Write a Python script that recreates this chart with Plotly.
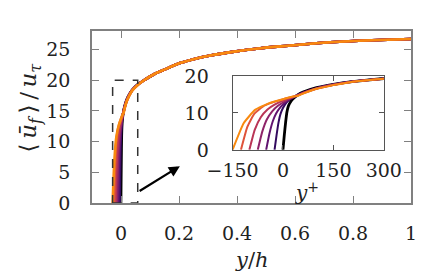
import plotly.graph_objects as go

RE_TAU = 5200.0

# near-wall profiles (y+ , u+) for each offset curve
yp0 = [0, 4, 8, 12, 16, 22, 30, 45, 60, 100, 150, 200, 300]
u0 = [0, 4, 7.5, 10.3, 11.8, 12.9, 13.8, 14.9, 15.6, 16.8, 17.7, 18.4, 19.3]
yp1 = [-25, -19, -13, -7, 0, 8, 18, 30, 45, 60, 100, 150, 200, 300]
u1 = [0, 4, 7.5, 9.8, 11.3, 12.5, 13.5, 14.2, 14.9, 15.5, 16.7, 17.7, 18.4, 19.3]
yp2 = [-50, -40, -30, -20, -8, 5, 18, 30, 45, 60, 100, 150, 200, 300]
u2 = [0, 4.5, 7.8, 9.9, 11.5, 12.7, 13.6, 14.2, 14.85, 15.45, 16.7, 17.65, 18.4, 19.3]
yp3 = [-75, -62, -48, -32, -15, 0, 15, 30, 45, 60, 100, 150, 200, 300]
u3 = [0, 4.8, 8.2, 10.4, 11.9, 12.8, 13.6, 14.2, 14.8, 15.4, 16.6, 17.6, 18.35, 19.25]
yp4 = [-100, -84, -66, -46, -25, -5, 15, 30, 45, 60, 100, 150, 200, 300]
u4 = [0, 5.4, 8.8, 10.9, 12.2, 13.1, 13.8, 14.3, 14.8, 15.35, 16.6, 17.6, 18.35, 19.25]
yp5 = [-125, -106, -85, -60, -35, -10, 12, 30, 45, 60, 100, 150, 200, 300]
u5 = [0, 6.2, 9.8, 11.7, 12.7, 13.4, 14.0, 14.4, 14.75, 15.3, 16.5, 17.55, 18.3, 19.2]
yp6 = [-150, -117, -83, -39, 5, 29, 45, 60, 100, 150, 200, 300]
u6 = [0, 7.2, 10.8, 12.7, 13.8, 14.4, 14.6, 15.2, 16.5, 17.5, 18.3, 19.2]

# shared outer region (y+ , u+)
outer_yp = [400, 600, 800, 1000, 1300, 1600, 2000, 2500, 3000, 3500, 4000, 4500, 5200]
outer_u = [19.9, 21.0, 21.8, 22.6, 23.4, 24.0, 24.6, 25.2, 25.6, 26.0, 26.3, 26.5, 26.7]

curves_yp = [yp0, yp1, yp2, yp3, yp4, yp5, yp6]
curves_u = [u0, u1, u2, u3, u4, u5, u6]
colors = ["#000000", "#330a5f", "#611470", "#8e2469", "#b93556", "#df533a", "#f8890f"]

main_xticks = [0, 0.2, 0.4, 0.6, 0.8, 1]
main_xlabels = ["0", "0.2", "0.4", "0.6", "0.8", "1"]
main_yticks = [0, 5, 10, 15, 20, 25]
inset_xticks = [-150, 0, 150, 300]
inset_yticks = [0, 10, 20]

FONT = "DejaVu Serif"

# page body has an 8px margin: the figure is offset by (8, 8)
OFF = 8
W, H = 441 - OFF, 280 - OFF
L, R, T, B = 92 - OFF, 28, 22 - OFF, 77
PW, PH = W - L - R, H - T - B


def paper_x(px):
    return (px - OFF - L) / PW


def paper_y(py):
    return (H - B - (py - OFF)) / PH


fig = go.Figure()

for yp, u, c in zip(curves_yp, curves_u, colors):
    yy = yp + outer_yp
    uu = u + outer_u
    fig.add_trace(go.Scatter(x=[v / RE_TAU for v in yy], y=uu, mode="lines",
                             line=dict(color=c, width=2.6, shape="spline", smoothing=0.8),
                             xaxis="x", yaxis="y", showlegend=False, hoverinfo="skip"))
    fig.add_trace(go.Scatter(x=yy, y=uu, mode="lines",
                             line=dict(color=c, width=2.0 if c != "#000000" else 2.8,
                                       shape="spline", smoothing=0.4),
                             xaxis="x2", yaxis="y2", showlegend=False, hoverinfo="skip"))

axis_common = dict(showgrid=False, zeroline=False, ticks="inside", mirror="ticks",
                   showline=True)

fig.update_layout(
    width=W, height=H,
    margin=dict(l=L, r=R, t=T, b=B),
    paper_bgcolor="white", plot_bgcolor="white",
    font=dict(family=FONT, size=19, color="#222222"),
    xaxis=dict(domain=[0, 1], range=[-0.1, 1], tickvals=main_xticks, ticktext=main_xlabels,
               ticklen=7, tickcolor="#808080", linecolor="#808080", linewidth=1.5,
               ticklabelstandoff=12, **axis_common),
    yaxis=dict(domain=[0, 1], range=[0, 28], tickvals=main_yticks,
               ticklen=7, tickcolor="#808080", linecolor="#808080", linewidth=1.5,
               ticklabelstandoff=16, **axis_common),
    xaxis2=dict(domain=[0.4406, 0.9146], range=[-150, 300], tickvals=inset_xticks,
                anchor="y2", ticklen=5, tickcolor="#555555", linecolor="#555555", linewidth=1,
                ticklabelstandoff=3, **axis_common),
    yaxis2=dict(domain=[0.309, 0.739], range=[0, 20], tickvals=inset_yticks,
                anchor="x2", ticklen=5, tickcolor="#555555", linecolor="#555555", linewidth=1,
                ticklabelstandoff=19, **axis_common),
)

# dashed zoom rectangle
fig.add_shape(type="rect", xref="x", yref="y", x0=-150 / RE_TAU, x1=300 / RE_TAU, y0=0, y1=20,
              line=dict(color="#333333", width=1.5, dash="dash"))

# arrow
fig.add_annotation(x=0.203, y=6.0, ax=0.059, ay=1.8, xref="x", yref="y", axref="x", ayref="y",
                   showarrow=True, arrowhead=2, arrowsize=1, arrowwidth=2.2, arrowcolor="black",
                   text="")

# axis titles (positions given in window pixels)
fig.add_annotation(text="<i>y</i>/<i>h</i>", xref="paper", yref="paper",
                   x=paper_x(252), y=paper_y(263), xanchor="center", yanchor="middle",
                   showarrow=False, font=dict(size=21))
fig.add_annotation(text="⟨\u2009<i>ū<sub>f</sub></i>\u2009⟩\u2009/\u2009<i>u<sub>τ</sub></i>",
                   xref="paper", yref="paper",
                   x=paper_x(30), y=paper_y(102), xanchor="center", yanchor="middle",
                   showarrow=False, textangle=-90, font=dict(size=23))
fig.add_annotation(text="<i>y</i><sup>+</sup>", xref="paper", yref="paper",
                   x=paper_x(308), y=paper_y(191), xanchor="center", yanchor="middle",
                   showarrow=False, font=dict(size=20))

fig.write_html("out.html")
